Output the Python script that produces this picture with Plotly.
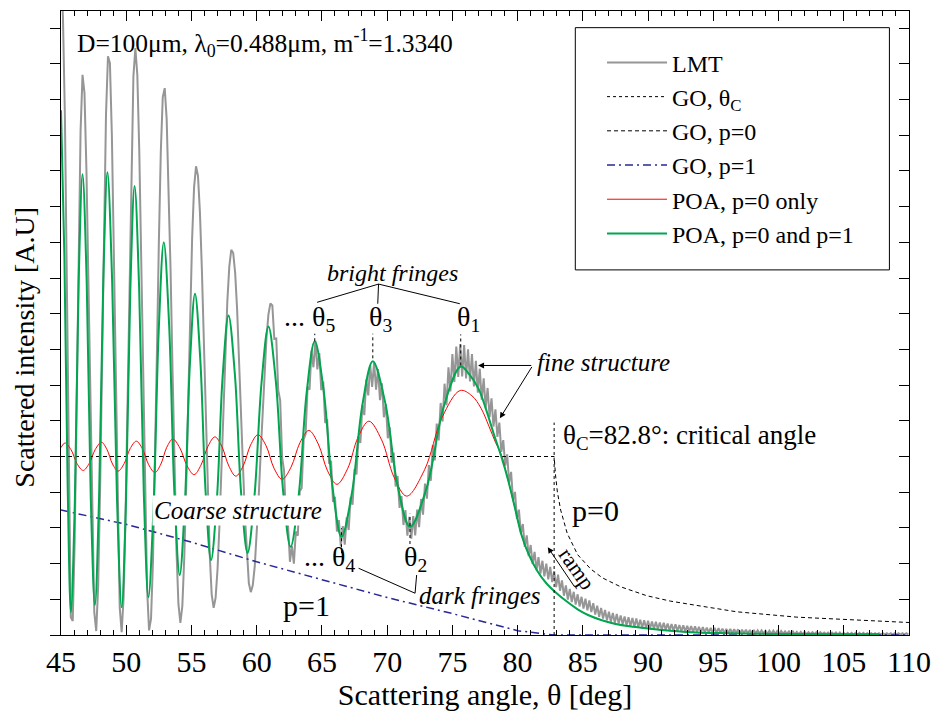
import plotly.graph_objects as go

# ---------------- data ----------------
LMT_STEP_DEG = 0.15

lmt_a_start = 45.00
lmt_a = [18.5, 17.3, 14.5, 9.5, 4.0, 0.5, 0.39, 2.66, 6.47, 10.71,
         14.11, 15.69, 15.18, 13.02, 9.74, 6.06, 2.81, 0.64, 0.11, 1.37,
         4.15, 7.83, 11.62, 14.59, 16.21, 16.02, 13.99, 10.69, 6.72, 3.22,
         0.78, 0.08, 1.06, 3.42, 6.68, 10.26, 13.34, 15.65, 16.44, 15.69,
         13.56, 10.49, 6.98, 3.66, 1.29, 0.13, 0.45, 2.07, 4.69, 7.85,
         10.99, 13.53, 15.07, 15.32, 14.45, 12.66, 10.19, 7.39, 4.66, 2.39,
         0.87, 0.34, 0.81, 2.18, 4.19, 6.59, 9.01, 11.09, 12.54, 13.13,
         12.86, 11.84, 10.22, 8.19, 5.99, 3.88, 2.26, 1.14, 0.76, 1.04,
         1.85, 3.11, 4.67, 6.35, 7.97, 9.35, 10.32, 10.79, 10.70, 10.14,
         9.12, 7.80, 6.27, 4.72, 3.31, 2.18, 1.45, 1.20, 1.39, 1.92,
         2.78, 3.84, 5.05, 6.29, 7.34, 8.33, 8.98, 9.29]

lmt_b_start = 61.20
lmt_b = [9.23, 8.30, 8.31, 6.86, 6.57, 4.97, 4.60, 3.16, 3.08, 2.05,
         2.50, 2.00, 2.90, 2.78, 4.03, 4.12, 5.48, 5.63, 6.95, 6.87,
         7.97, 7.50, 8.24, 7.44, 7.90, 6.86, 7.10, 5.94, 6.04, 4.80,
         4.88, 3.73, 3.87, 2.90, 3.22, 2.48, 3.05, 2.53, 3.30, 2.94,
         3.86, 3.65, 4.65, 4.50, 5.57, 5.38, 6.45, 6.16, 7.16, 6.71,
         7.57, 6.95, 7.64, 6.87, 7.45, 6.58, 7.05, 6.10, 6.47, 5.51,
         5.82, 4.83, 5.11, 4.16, 4.45, 3.56, 3.89, 3.08, 3.50, 2.78,
         3.31, 2.70, 3.33, 2.79, 3.51, 3.02, 3.81, 3.37, 4.24, 3.82,
         4.76, 4.32, 5.32, 4.89, 5.92, 5.45, 6.50, 5.98, 7.04, 6.44,
         7.50, 6.82, 7.87, 7.09, 8.08, 7.23, 8.15]

lmt_c_start = 75.75
lmt_c = [7.24, 8.12, 7.19, 8.00, 7.10, 7.87, 6.96, 7.68, 6.79, 7.46,
         6.59, 7.19, 6.35, 6.92, 6.10, 6.63, 5.84, 6.32, 5.55, 5.95,
         5.13, 5.46, 4.74, 5.06, 4.27, 4.57, 3.77, 4.01, 3.25, 3.51,
         2.84, 3.11, 2.47, 2.79, 2.21, 2.52, 1.99, 2.33, 1.82, 2.18,
         1.72, 2.08, 1.64, 2.00, 1.56, 1.91, 1.48, 1.79, 1.34, 1.69,
         1.24, 1.53, 1.10, 1.39, 0.99, 1.29, 0.92, 1.21, 0.85, 1.14,
         0.80, 1.07, 0.74, 1.02, 0.69, 0.97, 0.64, 0.89, 0.57, 0.82,
         0.51, 0.76, 0.46, 0.70, 0.41, 0.65, 0.37, 0.62, 0.34, 0.59,
         0.32, 0.55, 0.30, 0.52, 0.27, 0.50, 0.25, 0.48, 0.22, 0.46,
         0.22, 0.43, 0.20, 0.41, 0.19, 0.40, 0.18, 0.38, 0.17, 0.37,
         0.16, 0.35, 0.15, 0.34, 0.15, 0.32, 0.13, 0.31, 0.12, 0.30,
         0.12, 0.28, 0.11, 0.27, 0.10, 0.26, 0.10, 0.25, 0.09, 0.24,
         0.09, 0.23, 0.08, 0.22, 0.07, 0.21, 0.07, 0.20, 0.06, 0.20,
         0.06, 0.19, 0.06, 0.18, 0.05, 0.17]

lmt_d_start = 96.15
lmt_d = [0.05, 0.17, 0.05, 0.16, 0.05, 0.16, 0.04, 0.15, 0.04, 0.15,
         0.04, 0.14, 0.04, 0.14, 0.04, 0.13, 0.04, 0.13, 0.04, 0.12,
         0.03, 0.12, 0.03, 0.12, 0.03, 0.11, 0.03, 0.11, 0.03, 0.10,
         0.03, 0.10, 0.03, 0.10, 0.02, 0.09, 0.02, 0.09, 0.02, 0.09,
         0.02, 0.08, 0.02, 0.08, 0.02, 0.08, 0.02, 0.08, 0.02, 0.07,
         0.02, 0.07, 0.02, 0.07, 0.02, 0.07, 0.01, 0.07, 0.01, 0.06,
         0.01, 0.06, 0.01, 0.06, 0.01, 0.06, 0.01, 0.06, 0.01, 0.06,
         0.01, 0.05, 0.01, 0.05, 0.01, 0.05, 0.01, 0.05, 0.01, 0.05,
         0.01, 0.05, 0.01, 0.05, 0.01, 0.05, 0.01, 0.05, 0.01, 0.05,
         0.01, 0.05, 0.01]

poa_both_deg = [45.00, 45.26, 45.51, 45.76, 46.06, 46.35, 46.65, 46.97, 47.28, 47.60,
                47.92, 48.24, 48.56, 48.92, 49.29, 49.65, 49.98, 50.31, 50.64, 50.99,
                51.35, 51.70, 52.09, 52.49, 52.88, 53.29, 53.69, 54.10, 54.49, 54.88,
                55.27, 55.68, 56.09, 56.50, 56.95, 57.39, 57.84, 58.33, 58.81, 59.30,
                59.83, 60.37, 60.90, 61.47, 62.03, 62.60, 63.22, 63.83, 64.45, 65.13,
                65.82, 66.50, 67.30, 68.10, 68.90, 69.85, 70.80, 71.75, 73.05, 74.34,
                75.64, 76.30, 77.00, 77.60, 78.20, 78.75, 79.30, 79.80, 80.30, 80.80,
                81.50, 82.20, 82.90, 83.80, 84.60, 85.40, 86.40, 87.50, 88.90, 90.50,
                92.00, 93.70, 96.00, 100.00, 104.00, 107.70]
poa_both_val = [14.7, 10.6, 4.2, 0.64, 3.71, 9.84, 12.91, 9.89, 3.86, 0.84,
                3.87, 9.93, 12.96, 9.92, 3.83, 0.78, 3.73, 9.63, 12.58, 9.70,
                3.94, 1.06, 3.55, 8.52, 11.0, 8.67, 4.01, 1.68, 3.65, 7.59,
                9.56, 7.70, 3.97, 2.1, 3.81, 7.24, 8.95, 7.29, 3.96, 2.3,
                3.89, 7.06, 8.64, 7.10, 4.01, 2.47, 3.91, 6.79, 8.23, 6.86,
                4.12, 2.75, 3.98, 6.44, 7.67, 6.51, 4.19, 3.03, 4.15, 6.40,
                7.52, 7.3, 6.9, 6.3, 5.6, 5.0, 4.3, 3.55, 2.8, 2.3,
                1.8, 1.45, 1.2, 0.93, 0.72, 0.56, 0.42, 0.31, 0.23, 0.16,
                0.11, 0.07, 0.05, 0.03, 0.02, 0.02]

poa_p0_deg = [45.00, 45.30, 45.77, 46.23, 46.70, 47.17, 47.63, 48.10, 48.52, 48.95,
              49.37, 49.84, 50.30, 50.77, 51.25, 51.72, 52.20, 52.66, 53.11, 53.57,
              54.11, 54.66, 55.20, 55.73, 56.27, 56.80, 57.33, 57.87, 58.40, 58.97,
              59.53, 60.10, 60.72, 61.33, 61.95, 62.63, 63.32, 64.00, 64.72, 65.43,
              66.15, 66.97, 67.78, 68.60, 69.57, 70.53, 71.50, 72.87, 74.23, 75.60,
              76.50, 77.20, 77.80, 78.30, 78.75, 79.30, 79.80, 80.30, 80.80, 81.50,
              82.20, 82.90, 83.80, 84.60, 85.40, 86.40, 87.50, 88.90, 90.50, 92.00,
              93.70, 96.00, 100.00, 104.00, 107.70]
poa_p0_val = [5.25, 5.38, 5.19, 4.80, 4.61, 4.81, 5.20, 5.40, 5.20, 4.79,
              4.59, 4.80, 5.22, 5.43, 5.21, 4.77, 4.55, 4.79, 5.26, 5.49,
              5.24, 4.74, 4.49, 4.76, 5.29, 5.55, 5.28, 4.73, 4.45, 4.74,
              5.32, 5.61, 5.30, 4.67, 4.36, 4.70, 5.39, 5.73, 5.35, 4.60,
              4.22, 4.66, 5.55, 5.99, 5.47, 4.42, 3.89, 4.63, 6.11, 6.85,
              6.70, 6.35, 5.85, 5.40, 5.05, 4.30, 3.55, 2.80, 2.30, 1.80,
              1.45, 1.20, 0.93, 0.72, 0.56, 0.42, 0.31, 0.23, 0.16, 0.11,
              0.07, 0.05, 0.03, 0.02, 0.02]

go_p0_deg = [45.0, 82.8, 82.9, 83.05, 83.3, 83.8, 84.6, 85.6, 86.5, 87.9,
             89.9, 91.7, 93.7, 96.8, 101.4, 105.5, 110.0]
go_p0_val = [5.0, 5.0, 4.5, 4.0, 3.5, 2.85, 2.25, 1.85, 1.6, 1.35,
             1.1, 0.95, 0.83, 0.65, 0.5, 0.42, 0.35]

go_p1_deg = [45.0, 50.0, 55.0, 60.0, 65.0, 70.0, 75.0, 78.0, 80.0, 82.8, 110.0]
go_p1_val = [3.5, 3.1, 2.6, 2.05, 1.55, 1.05, 0.6, 0.3, 0.12, 0.0, 0.0]

theta_c_deg = 82.8
theta_c_line = [0.0, 5.95]

# fringe labels: (label, angle of the POA extremum, dotted marker span)
bright_fringes = [("5", 64.45, (8.23, 8.44)), ("3", 68.90, (7.75, 8.44)), ("1", 75.64, (7.55, 8.42))]
dark_fringes = [("4", 66.50, (2.29, 2.99)), ("2", 71.75, (2.55, 3.40))]

X_TICKS = list(range(45, 111, 5))
Y_MAX = 17.48

# ---------------- build ----------------
def grid(start, vals):
    return [round(start + LMT_STEP_DEG * i, 4) for i in range(len(vals))]

lmt_deg = grid(lmt_a_start, lmt_a) + grid(lmt_b_start, lmt_b) + grid(lmt_c_start, lmt_c) + grid(lmt_d_start, lmt_d)
lmt_val = lmt_a + lmt_b + lmt_c + lmt_d

FONT = "Liberation Serif, Times New Roman, serif"
fig = go.Figure()

fig.add_trace(go.Scatter(x=lmt_deg, y=lmt_val, mode="lines", name="LMT",
                         legendgroup="a", line=dict(color="rgb(150,150,150)", width=2)))
fig.add_trace(go.Scatter(x=[theta_c_deg, theta_c_deg], y=theta_c_line, mode="lines",
                         name="GO, θ<sub>C</sub>", legendgroup="b", yaxis="y2",
                         line=dict(color="black", width=1, dash="dot")))
fig.add_trace(go.Scatter(x=go_p0_deg, y=go_p0_val, mode="lines", name="GO, p=0",
                         legendgroup="c", line=dict(color="black", width=1, dash="4px,3px")))
fig.add_trace(go.Scatter(x=go_p1_deg, y=go_p1_val, mode="lines", name="GO, p=1",
                         legendgroup="d", line=dict(color="rgb(40,40,150)", width=1.5, dash="8px,4px,2px,4px")))
fig.add_trace(go.Scatter(x=poa_p0_deg, y=poa_p0_val, mode="lines", name="POA, p=0 only",
                         legendgroup="e", line=dict(color="rgb(255,0,0)", width=1, shape="spline")))
fig.add_trace(go.Scatter(x=poa_both_deg, y=poa_both_val, mode="lines", name="POA, p=0 and p=1",
                         legendgroup="f", line=dict(color="rgb(0,166,80)", width=2, shape="spline")))

ann = []
def txt(x, y, text, size=28, xanchor="center", yanchor="middle", xref="x", yref="y", **kw):
    d = dict(x=x, y=y, xref=xref, yref=yref, text=text, showarrow=False,
             xanchor=xanchor, yanchor=yanchor, font=dict(family=FONT, size=size, color="black"))
    d.update(kw)
    ann.append(d)

txt(46.07, 16.58, "D=100μm, λ<sub>0</sub>=0.488μm, m<sup>-1</sup>=1.3340", size=25.5, xanchor="left")
txt(70.40, 10.15, "<i>bright fringes</i>", size=24)
txt(66.13, 8.86, "... θ<sub>5</sub>", xanchor="right")
txt(69.49, 8.86, "θ<sub>3</sub>")
txt(76.20, 8.86, "θ<sub>1</sub>")
txt(67.66, 2.15, "... θ<sub>4</sub>", xanchor="right")
txt(72.16, 2.15, "θ<sub>2</sub>")
txt(77.12, 1.12, "<i>dark fringes</i>", size=25)
txt(81.31, 7.63, "<i>fine structure</i>", size=25, xanchor="left")
txt(83.30, 5.56, "θ<sub>C</sub>=82.8°: critical angle", size=27, xanchor="left")
txt(85.97, 3.50, "p=0", size=30)
txt(84.52, 1.85, "ramp", size=22, textangle=55)
txt(58.58, 3.50, "<i>Coarse structure</i>", size=25, bgcolor="white")
txt(63.84, 0.84, "p=1", size=30)
# y-axis title (placed as paper text so it sits where the original puts it)
txt(-0.0434, 0.4608, "Scattered intensity [A.U]", size=28, xref="paper", yref="paper", textangle=-90)

def arrow(x, y, ax, ay):
    ann.append(dict(x=x, y=y, ax=ax, ay=ay, xref="x", yref="y", axref="x", ayref="y",
                    text="", showarrow=True, arrowhead=2, arrowsize=1.2, arrowwidth=1, arrowcolor="black"))

arrow(76.97, 7.55, 81.16, 7.55)
arrow(78.64, 6.07, 81.16, 7.55)
arrow(82.31, 2.46, 84.44, 1.31)

shapes = []
def seg(x0, y0, x1, y1, dash="solid"):
    shapes.append(dict(type="line", xref="x", yref="y", x0=x0, y0=y0, x1=x1, y1=y1,
                       line=dict(color="black", width=1, dash=dash)))

# bright-fringe connectors
seg(69.34, 9.83, 64.63, 9.32)
seg(69.34, 9.83, 69.28, 9.28)
seg(69.34, 9.83, 75.57, 9.28)
# dark-fringe connectors
seg(72.14, 1.17, 67.81, 1.87)
seg(72.14, 1.17, 72.26, 1.68)
# dotted fringe markers
for _, ang, (y0, y1) in bright_fringes + dark_fringes:
    seg(ang, y0, ang, y1, dash="dot")

# legend frame
shapes.append(dict(type="rect", xref="paper", yref="paper", x0=0.6065, x1=0.9769, y0=0.5851, y1=0.9733,
                   line=dict(color="black", width=1), fillcolor="rgba(0,0,0,0)"))

fig.update_layout(
    width=941, height=713,
    margin=dict(l=61, r=28, t=10, b=78, pad=0),
    paper_bgcolor="white", plot_bgcolor="white",
    font=dict(family=FONT, size=28, color="black"),
    showlegend=True,
    legend=dict(x=0.638, y=0.953, xanchor="left", yanchor="top", bgcolor="rgba(0,0,0,0)",
                borderwidth=0, font=dict(family=FONT, size=24, color="black"),
                traceorder="grouped", tracegroupgap=0, itemwidth=60),
    xaxis=dict(range=[45, 110], tickmode="array", tickvals=X_TICKS, ticktext=[str(t) for t in X_TICKS],
               ticks="inside", ticklen=10, tickwidth=1, tickcolor="black",
               minor=dict(dtick=1, tick0=45, ticks="inside", ticklen=5, tickcolor="black"),
               showline=True, linecolor="black", linewidth=1, mirror="ticks",
               showgrid=False, zeroline=False, tickfont=dict(family=FONT, size=30),
               title=dict(text="Scattering angle, θ [deg]", font=dict(family=FONT, size=30), standoff=2)),
    yaxis=dict(range=[0, Y_MAX], tick0=0, dtick=1, ticks="outside", ticklen=10, tickcolor="black",
               showticklabels=False, showline=True, mirror=True, linecolor="black", linewidth=1,
               showgrid=False, zeroline=False),
    yaxis2=dict(overlaying="y", side="right", range=[0, Y_MAX], tick0=0, dtick=1, ticks="inside",
                ticklen=10, tickcolor="black", showticklabels=False, showline=False,
                showgrid=False, zeroline=False),
    annotations=ann,
    shapes=shapes,
)

fig.write_html("out.html", config={"displayModeBar": False},
               post_script="document.body.style.margin='0';")
